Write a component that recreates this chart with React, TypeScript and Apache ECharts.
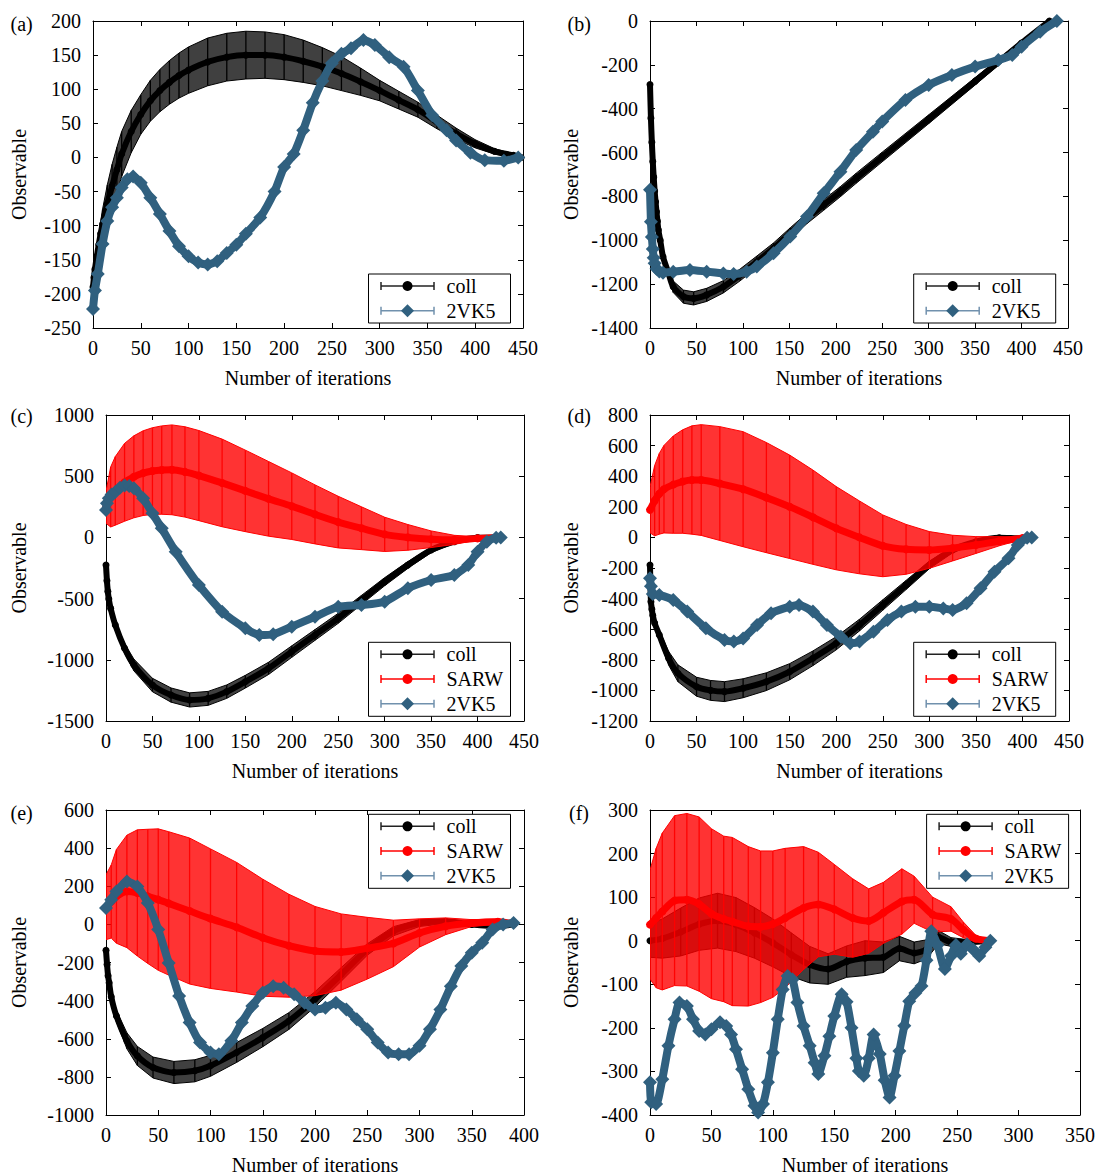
import React, { useEffect, useRef } from "react";
import * as echarts from "echarts";

// ---------- Panel (a) ----------
const A_COLL_T = [0, 1, 2, 4, 6, 8, 10, 15, 20, 25, 30, 40, 50, 60, 70, 80, 90, 100, 120, 140, 160, 180, 200, 220, 240, 260, 280, 300, 320, 340, 360, 380, 400, 420, 440, 448];
const A_COLL_MEAN = [-190, -176, -164, -145, -128, -112, -98, -68, -42, -18, 5, 38, 63, 83, 98, 110, 120, 128, 140, 147, 150, 150, 147, 141, 133, 123, 111, 98, 84, 70, 52, 35, 20, 9, 3, 0];
const A_COLL_ERR = [3, 5, 8, 12, 15, 18, 22, 28, 32, 33, 33, 31, 29, 30, 31, 32, 33, 34, 35, 35, 35, 34, 33, 31, 28, 25, 20, 15, 13, 11, 10, 8, 6, 4, 2, 1];
const A_VK_T = [0, 2, 5, 10, 15, 20, 25, 30, 36, 42, 50, 60, 70, 80, 90, 100, 110, 120, 130, 140, 150, 160, 175, 190, 200, 210, 220, 230, 240, 250, 260, 270, 283, 295, 310, 325, 340, 355, 370, 380, 395, 410, 430, 445];
const A_VK_MEAN = [-222, -195, -171, -127, -93, -73, -59, -44, -32, -28, -37, -59, -83, -108, -130, -145, -154, -157, -152, -140, -128, -112, -88, -50, -14, 5, 40, 80, 112, 138, 152, 160, 172, 165, 147, 133, 98, 62, 40, 25, 7, -4, -5, 0];

// ---------- Panel (b) ----------
const B_COLL_T = [0, 1, 2, 3, 4, 5, 6, 7, 8, 9, 11, 14, 20, 25, 36, 47, 61, 79, 97, 115, 133, 151, 169, 187, 205, 222, 250, 300, 350, 400, 430];
const B_COLL_MEAN = [-290, -443, -553, -641, -712, -775, -824, -870, -913, -953, -1000, -1075, -1151, -1212, -1257, -1265, -1249, -1212, -1158, -1098, -1037, -968, -900, -839, -778, -717, -620, -448, -275, -100, 0];
const B_COLL_ERR = [0, 0, 0, 0, 0, 0, 0, 2, 4, 6, 10, 15, 22, 26, 30, 30, 30, 28, 27, 26, 25, 25, 24, 24, 23, 23, 22, 20, 17, 12, 2];
const B_VK_T = [0, 1, 2, 3, 4, 5, 7, 10, 14, 25, 43, 61, 79, 90, 104, 115, 133, 151, 169, 187, 205, 222, 240, 250, 275, 300, 325, 350, 375, 390, 400, 420, 438];
const B_VK_MEAN = [-770, -915, -985, -1040, -1080, -1105, -1130, -1142, -1148, -1143, -1135, -1143, -1151, -1154, -1143, -1120, -1059, -983, -892, -786, -687, -588, -505, -458, -360, -292, -246, -208, -178, -155, -117, -49, 0];

// ---------- Panel (c) ----------
const C_COLL_T = [0, 1, 2, 3, 5, 10, 20, 30, 50, 70, 90, 110, 130, 150, 175, 200, 225, 250, 275, 300, 325, 350, 375, 400, 425];
const C_COLL_MEAN = [-225, -355, -443, -503, -580, -716, -906, -1042, -1206, -1288, -1328, -1315, -1260, -1179, -1070, -933, -797, -661, -511, -362, -225, -103, -35, -2, 0];
const C_COLL_ERR = [3, 6, 10, 15, 20, 30, 40, 48, 55, 58, 58, 57, 55, 52, 50, 47, 44, 41, 37, 33, 28, 22, 15, 8, 2];
const C_SARW_T = [0, 5, 10, 20, 30, 40, 50, 60, 71, 85, 100, 125, 150, 175, 200, 225, 250, 275, 300, 325, 350, 375, 400, 425];
const C_SARW_MEAN = [245, 330, 380, 450, 495, 525, 542, 550, 552, 535, 505, 445, 380, 315, 255, 188, 125, 75, 25, 0, -15, -20, -8, 0];
const C_SARW_ERR = [130, 245, 280, 318, 335, 346, 354, 361, 367, 369, 368, 358, 333, 305, 272, 241, 211, 175, 140, 105, 68, 37, 13, 0];
const C_VK_T = [0, 1, 3, 6, 10, 15, 20, 25, 30, 40, 50, 60, 75, 100, 125, 150, 165, 180, 200, 225, 250, 275, 300, 325, 350, 375, 390, 400, 410, 420, 425];
const C_VK_MEAN = [224, 278, 320, 350, 370, 405, 423, 420, 401, 319, 197, 74, -117, -389, -607, -743, -797, -792, -729, -648, -566, -552, -525, -416, -348, -307, -225, -117, -35, -2, 0];

// ---------- Panel (d) ----------
const D_COLL_T = [0, 1, 2, 3, 5, 10, 20, 30, 50, 65, 80, 100, 125, 150, 175, 200, 225, 250, 275, 300, 325, 350, 375, 400, 410];
const D_COLL_MEAN = [-180, -420, -470, -510, -560, -638, -790, -888, -976, -1000, -1008, -986, -943, -878, -790, -692, -573, -442, -311, -180, -82, -28, -2, -6, 0];
const D_COLL_ERR = [3, 8, 12, 15, 20, 30, 45, 55, 62, 65, 65, 62, 58, 53, 48, 43, 38, 34, 30, 25, 19, 13, 8, 5, 2];
const D_SARW_T = [0, 5, 10, 15, 25, 35, 45, 55, 75, 100, 125, 150, 175, 200, 225, 250, 275, 300, 325, 350, 375, 400, 410];
const D_SARW_MEAN = [180, 240, 285, 315, 345, 365, 375, 375, 352, 315, 260, 200, 132, 60, 0, -55, -78, -82, -70, -50, -25, -5, 0];
const D_SARW_ERR = [150, 230, 264, 286, 318, 338, 354, 362, 372, 376, 360, 338, 308, 272, 238, 202, 163, 120, 84, 55, 30, 8, 0];
const D_VK_T = [0, 1, 3, 10, 25, 40, 60, 80, 90, 100, 115, 130, 150, 160, 175, 190, 205, 215, 225, 240, 255, 270, 285, 300, 315, 325, 340, 355, 370, 385, 395, 405, 410];
const D_VK_MEAN = [-267, -320, -370, -376, -409, -485, -594, -670, -681, -660, -573, -496, -453, -442, -485, -573, -649, -692, -681, -616, -540, -485, -453, -453, -464, -474, -431, -333, -224, -137, -50, -2, 0];

// ---------- Panel (e) ----------
const E_COLL_T = [0, 1, 2, 3, 5, 10, 20, 30, 45, 65, 85, 100, 125, 150, 175, 200, 225, 250, 275, 300, 325, 350, 375, 390];
const E_COLL_MEAN = [-136, -210, -270, -306, -380, -481, -611, -690, -751, -777, -768, -742, -672, -594, -507, -393, -263, -132, -36, 7, 16, -1, -10, 0];
const E_COLL_ERR = [3, 6, 10, 14, 20, 30, 42, 50, 55, 58, 58, 55, 52, 48, 44, 40, 36, 30, 24, 18, 12, 8, 5, 2];
const E_SARW_T = [0, 5, 10, 20, 30, 40, 50, 60, 80, 100, 125, 150, 175, 200, 225, 250, 275, 300, 325, 350, 375, 390];
const E_SARW_MEAN = [90, 120, 147, 173, 165, 147, 130, 110, 70, 30, -15, -70, -112, -140, -145, -125, -100, -45, -10, 7, 14, 3];
const E_SARW_ERR = [170, 192, 246, 295, 331, 352, 371, 376, 383, 366, 340, 307, 270, 234, 200, 162, 122, 74, 44, 18, 14, 3];
const E_VK_T = [0, 5, 10, 20, 30, 40, 50, 60, 70, 80, 90, 100, 108, 120, 130, 140, 150, 160, 170, 180, 190, 200, 210, 220, 230, 240, 250, 260, 270, 280, 290, 300, 310, 320, 330, 340, 350, 360, 370, 380, 390];
const E_VK_MEAN = [86, 129, 173, 225, 199, 112, -27, -202, -376, -515, -620, -672, -681, -611, -515, -428, -359, -324, -332, -367, -411, -446, -437, -411, -446, -498, -550, -620, -672, -681, -681, -637, -550, -446, -324, -219, -149, -97, -27, -1, 7];

// ---------- Panel (f) ----------
const F_COLL_T = [0, 10, 25, 40, 55, 70, 85, 100, 115, 130, 145, 160, 175, 190, 203, 215, 225, 235, 245, 260, 277];
const F_COLL_MEAN = [0, 5, 20, 38, 46, 37, 18, -5, -32, -55, -65, -48, -40, -38, -18, -28, -20, 8, -3, -3, 0];
const F_COLL_ERR = [38, 45, 55, 60, 63, 62, 58, 55, 50, 42, 35, 36, 40, 35, 28, 25, 22, 15, 10, 5, 2];
const F_SARW_T = [0, 5, 10, 20, 30, 40, 50, 60, 67, 80, 90, 100, 110, 125, 137, 150, 165, 178, 190, 205, 215, 230, 245, 255, 265, 277];
const F_SARW_MEAN = [37, 52, 67, 92, 94, 84, 62, 50, 44, 33, 32, 38, 52, 75, 83, 72, 52, 45, 64, 90, 94, 60, 50, 25, 5, 0];
const F_SARW_ERR = [125, 160, 180, 195, 198, 200, 195, 190, 193, 183, 174, 168, 160, 141, 120, 103, 90, 74, 70, 75, 54, 40, 28, 18, 8, 0];
const F_VK_T = [0, 1, 5, 10, 15, 20, 24, 30, 35, 40, 45, 50, 57, 62, 66, 70, 75, 80, 85, 88, 92, 96, 100, 104, 108, 112, 116, 120, 125, 130, 134, 137, 142, 146, 150, 156, 160, 164, 168, 170, 174, 178, 182, 187, 191, 195, 199, 203, 207, 211, 216, 221, 225, 229, 234, 240, 245, 249, 253, 258, 263, 268, 273, 277];
const F_VK_MEAN = [-325, -371, -375, -318, -241, -180, -142, -150, -180, -207, -215, -203, -187, -196, -215, -249, -295, -341, -379, -394, -375, -325, -257, -180, -112, -81, -89, -142, -196, -241, -280, -306, -264, -219, -173, -123, -140, -200, -270, -299, -310, -270, -215, -260, -320, -360, -310, -253, -195, -139, -120, -104, -45, 22, -10, -65, -35, -10, -30, -8, -20, -35, -15, 0];

const X_TITLE = "Number of iterations";
const Y_TITLE = "Observable";

const FONT = "Liberation Serif";
const BLUE = "#30607f";

const PANELS: any[] = [
  { label: "(a)", lx: 10.5, ly: 24, grid: { left: 93, top: 21, width: 430, height: 307 }, xMax: 450, yMin: -250, yMax: 200, yInt: 50, nameGap: 64,
    coll: { t: A_COLL_T, mean: A_COLL_MEAN, err: A_COLL_ERR }, sarw: null, vk: { t: A_VK_T, mean: A_VK_MEAN }, legend: { x: 368.5, y: 274 } },
  { label: "(b)", lx: 567.5, ly: 24, grid: { left: 650, top: 21, width: 418, height: 307 }, xMax: 450, yMin: -1400, yMax: 0, yInt: 200, nameGap: 69,
    coll: { t: B_COLL_T, mean: B_COLL_MEAN, err: B_COLL_ERR }, sarw: null, vk: { t: B_VK_T, mean: B_VK_MEAN }, legend: { x: 913.7, y: 274 } },
  { label: "(c)", lx: 10.5, ly: 416, grid: { left: 106, top: 415, width: 418, height: 306 }, xMax: 450, yMin: -1500, yMax: 1000, yInt: 500, nameGap: 77,
    coll: { t: C_COLL_T, mean: C_COLL_MEAN, err: C_COLL_ERR }, sarw: { t: C_SARW_T, mean: C_SARW_MEAN, err: C_SARW_ERR }, vk: { t: C_VK_T, mean: C_VK_MEAN }, legend: { x: 368.5, y: 642.3 } },
  { label: "(d)", lx: 567.5, ly: 416, grid: { left: 650, top: 415, width: 419, height: 306 }, xMax: 450, yMin: -1200, yMax: 800, yInt: 200, nameGap: 69,
    coll: { t: D_COLL_T, mean: D_COLL_MEAN, err: D_COLL_ERR }, sarw: { t: D_SARW_T, mean: D_SARW_MEAN, err: D_SARW_ERR }, vk: { t: D_VK_T, mean: D_VK_MEAN }, legend: { x: 913.7, y: 642.3 } },
  { label: "(e)", lx: 10.5, ly: 813, grid: { left: 106, top: 810, width: 418, height: 306 }, xMax: 400, yMin: -1000, yMax: 600, yInt: 200, nameGap: 77,
    coll: { t: E_COLL_T, mean: E_COLL_MEAN, err: E_COLL_ERR }, sarw: { t: E_SARW_T, mean: E_SARW_MEAN, err: E_SARW_ERR }, vk: { t: E_VK_T, mean: E_VK_MEAN }, legend: { x: 368.5, y: 814.3 } },
  { label: "(f)", lx: 569, ly: 813, grid: { left: 650, top: 810, width: 430, height: 306 }, xMax: 350, yMin: -400, yMax: 300, yInt: 100, nameGap: 69,
    coll: { t: F_COLL_T, mean: F_COLL_MEAN, err: F_COLL_ERR }, sarw: { t: F_SARW_T, mean: F_SARW_MEAN, err: F_SARW_ERR }, vk: { t: F_VK_T, mean: F_VK_MEAN }, legend: { x: 926.6, y: 814.3 } },
];

function bandSeries(c: any, axis: number, fill: string, edge: string, stripe: string, z: number) {
  const t: number[] = c.t;
  const lo = c.mean.map((m: number, i: number) => m - c.err[i]);
  const hi = c.mean.map((m: number, i: number) => m + c.err[i]);
  return {
    type: "custom",
    xAxisIndex: axis,
    yAxisIndex: axis,
    z,
    silent: true,
    clip: true,
    data: t.map((x, i) => [x, lo[i], hi[i]]),
    encode: { x: 0, y: [1, 2] },
    renderItem: (params: any, api: any) => {
      const i = params.dataIndex;
      const a = api.coord([t[i], hi[i]]);
      const b = api.coord([t[i], lo[i]]);
      const children: any[] = [];
      if (i === 0) {
        const top = t.map((x, k) => api.coord([x, hi[k]]));
        const bot = t.map((x, k) => api.coord([x, lo[k]])).reverse();
        children.push({
          type: "polygon",
          shape: { points: top.concat(bot) },
          style: { fill, stroke: edge, lineWidth: 1 },
        });
      }
      children.push({
        type: "line",
        shape: { x1: a[0], y1: a[1], x2: b[0], y2: b[1] },
        style: { stroke: stripe, lineWidth: 1.3 },
      });
      return { type: "group", children };
    },
  };
}

function meanSeries(c: any, axis: number, color: string, z: number, width: number, size: number) {
  return {
    type: "line",
    xAxisIndex: axis,
    yAxisIndex: axis,
    z,
    silent: true,
    smooth: 0.25,
    data: c.t.map((x: number, i: number) => [x, c.mean[i]]),
    symbol: "circle",
    symbolSize: size,
    showSymbol: true,
    showAllSymbol: true,
    lineStyle: { color, width },
    itemStyle: { color },
  };
}

function vkSeries(c: any, axis: number, z: number) {
  return {
    type: "line",
    xAxisIndex: axis,
    yAxisIndex: axis,
    z,
    silent: true,
    smooth: 0.2,
    data: c.t.map((x: number, i: number) => [x, c.mean[i]]),
    symbol: "diamond",
    symbolSize: [14, 14],
    showSymbol: true,
    showAllSymbol: true,
    lineStyle: { color: BLUE, width: 8 },
    itemStyle: { color: BLUE },
  };
}

function txt(x: number, y: number, text: string, align: string) {
  return {
    type: "text", z: 52, silent: true, x, y,
    style: { text, fontFamily: FONT, fontSize: 20, fill: "#000", align, verticalAlign: "middle" },
  };
}

function legendEls(p: any) {
  const rows: any[] = [["coll", "#000", "#222", "circle"]];
  if (p.sarw) rows.push(["SARW", "#ff0000", "#ff0000", "circle"]);
  rows.push(["2VK5", BLUE, "#7191ad", "diamond"]);
  const x = p.legend.x;
  const y = p.legend.y;
  const h = rows.length === 3 ? 74 : 49;
  const els: any[] = [
    { type: "rect", z: 50, silent: true, shape: { x, y, width: 142, height: h }, style: { fill: "#fff", stroke: "#000", lineWidth: 1 } },
  ];
  rows.forEach((r, k) => {
    const cy = y + 12 + k * 24.7;
    const x1 = x + 12.5;
    const x2 = x + 65.5;
    const mx = x + 39;
    els.push({ type: "line", z: 51, silent: true, shape: { x1, y1: cy, x2, y2: cy }, style: { stroke: r[2], lineWidth: 1.5 } });
    els.push({ type: "line", z: 51, silent: true, shape: { x1, y1: cy - 4, x2: x1, y2: cy + 4 }, style: { stroke: r[2], lineWidth: 1.5 } });
    els.push({ type: "line", z: 51, silent: true, shape: { x1: x2, y1: cy - 4, x2, y2: cy + 4 }, style: { stroke: r[2], lineWidth: 1.5 } });
    if (r[3] === "circle") {
      els.push({ type: "circle", z: 52, silent: true, shape: { cx: mx, cy, r: 5 }, style: { fill: r[1] } });
    } else {
      els.push({ type: "polygon", z: 52, silent: true, shape: { points: [[mx, cy - 6.5], [mx + 6.5, cy], [mx, cy + 6.5], [mx - 6.5, cy]] }, style: { fill: r[1] } });
    }
    els.push(txt(x + 78, cy, r[0], "left"));
  });
  return els;
}

function buildOption() {
  const grid: any[] = [];
  const xAxis: any[] = [];
  const yAxis: any[] = [];
  const series: any[] = [];
  const graphic: any[] = [];
  const labelStyle = { color: "#000", fontFamily: FONT, fontSize: 20 };
  PANELS.forEach((p, i) => {
    grid.push({ ...p.grid, containLabel: false });
    const common = { gridIndex: i, type: "value", splitLine: { show: false } };
    const lineStyle = { color: "#000", width: 1 };
    xAxis.push({
      ...common, position: "bottom", min: 0, max: p.xMax, interval: 50,
      axisLine: { show: true, onZero: false, lineStyle },
      axisTick: { show: true, inside: true, length: 5, lineStyle },
      axisLabel: { ...labelStyle, margin: 10, formatter: (v: number) => String(v) },
      name: X_TITLE, nameLocation: "middle", nameGap: 40, nameTextStyle: labelStyle,
    });
    xAxis.push({
      ...common, position: "top", min: 0, max: p.xMax, interval: 50,
      axisLine: { show: true, onZero: false, lineStyle },
      axisTick: { show: true, inside: true, length: 5, lineStyle },
      axisLabel: { show: false },
    });
    yAxis.push({
      ...common, position: "left", min: p.yMin, max: p.yMax, interval: p.yInt,
      axisLine: { show: true, onZero: false, lineStyle },
      axisTick: { show: true, inside: true, length: 5, lineStyle },
      axisLabel: { ...labelStyle, margin: 12, formatter: (v: number) => String(v) },
      name: Y_TITLE, nameLocation: "middle", nameRotate: 90, nameGap: p.nameGap, nameTextStyle: labelStyle,
    });
    yAxis.push({
      ...common, position: "right", min: p.yMin, max: p.yMax, interval: p.yInt,
      axisLine: { show: true, onZero: false, lineStyle },
      axisTick: { show: true, inside: true, length: 5, lineStyle },
      axisLabel: { show: false },
    });
    const ax = 2 * i;
    series.push(bandSeries(p.coll, ax, "rgba(10,10,10,0.78)", "#000", "#000", 1));
    series.push(meanSeries(p.coll, ax, "#000", 2, 6, 7));
    if (p.sarw) {
      series.push(bandSeries(p.sarw, ax, "rgba(255,0,0,0.8)", "#ff0000", "rgba(255,0,0,0.95)", 3));
      series.push(meanSeries(p.sarw, ax, "#ff0000", 4, 7, 8));
    }
    series.push(vkSeries(p.vk, ax, 5));
    graphic.push(txt(p.lx, p.ly, p.label, "left"));
    legendEls(p).forEach((e) => graphic.push(e));
  });
  return { animation: false, backgroundColor: "#fff", textStyle: { fontFamily: FONT }, grid, xAxis, yAxis, series, graphic };
}

export default function App() {
  const ref = useRef<HTMLDivElement>(null);
  useEffect(() => {
    document.body.style.margin = "0";
    if (!ref.current) return;
    const chart = echarts.init(ref.current, null, { renderer: "svg" });
    chart.setOption(buildOption() as any);
    return () => chart.dispose();
  }, []);
  return <div ref={ref} style={{ width: 1098, height: 1176 }} />;
}
